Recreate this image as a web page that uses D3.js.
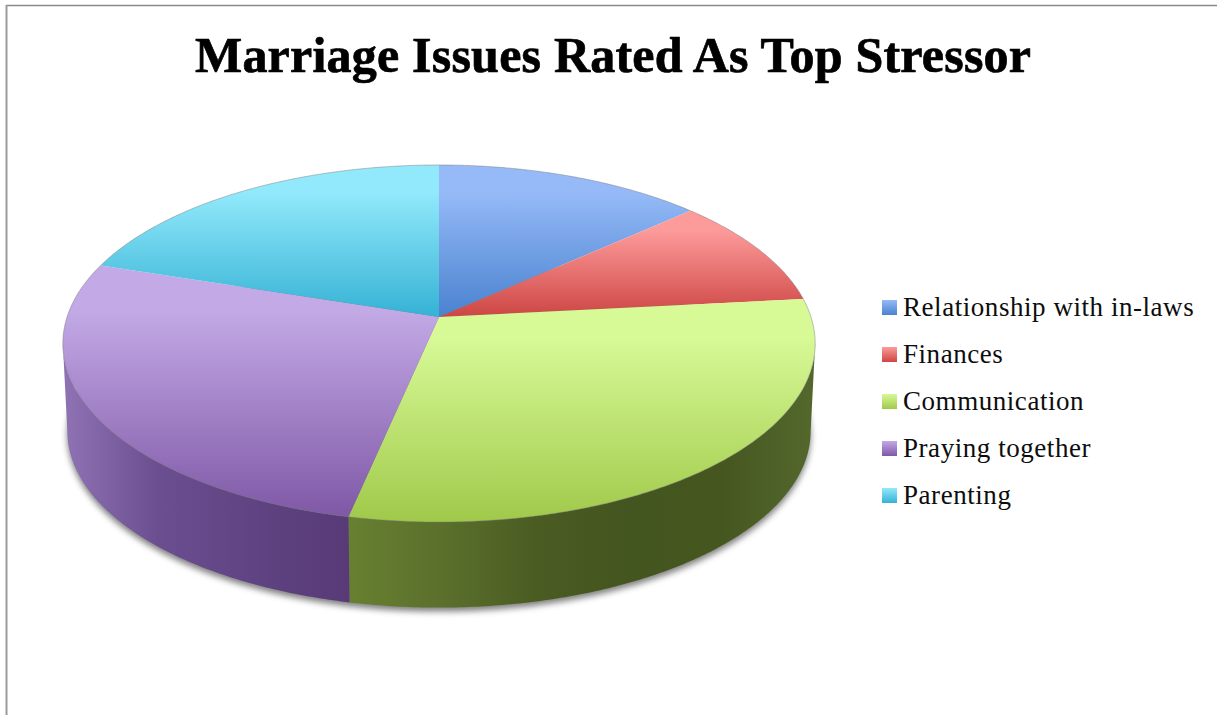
<!DOCTYPE html>
<html>
<head>
<meta charset="utf-8">
<script src="https://cdn.jsdelivr.net/npm/d3@7"></script>
<style>
  html, body { margin: 0; padding: 0; background: #fff; }
  svg { display: block; }
  text { font-family: "Liberation Serif", serif; fill: #0d0d0d; }
</style>
</head>
<body>
<svg id="chart" width="1217" height="715"></svg>
<script>
const titleText = "Marriage Issues Rated As Top Stressor";
const categories = ["Relationship with in-laws", "Finances", "Communication", "Praying together", "Parenting"];
const values = [4, 3, 9, 8, 6];
const faceLight = ["#95baf7", "#fd9b9b", "#d7f996", "#c3a9e6", "#92e9fb"];
const faceDark = ["#4a82cf", "#cd4643", "#a0c94a", "#7f58a6", "#35b2d5"];
const wallStops = {
  2: ["#678030", "#5b702c", "#4a5c22", "#44561f", "#45571f", "#54682d"],
  3: ["#8f73b4", "#6b4e90", "#5f4382", "#573a76"]
};

const W = 1217, H = 715;
const svg = d3.select("#chart");
const defs = svg.append("defs");

// Perspective view of the disc: far side is compressed, near side enlarged.
const view = { cx: 439, cy: 317, a: 372, b: 174.6, k: 0.1485, depth: 88, shrink: 0.988 };
function project(theta, level) {
  const u = Math.sin(theta), v = Math.cos(theta), w = 1 + view.k * v;
  const s = level ? view.shrink : 1;
  return [view.cx + s * view.a * u / w, view.cy + level * view.depth - s * view.b * v / w];
}
function arcPoints(a0, a1, level) {
  const n = Math.max(2, Math.ceil((a1 - a0) / 0.01));
  return d3.range(n + 1).map(i => project(a0 + (a1 - a0) * i / n, level));
}
const line = d3.line();
const slices = d3.pie().sort(null)(values);
// The wall is visible between the two tangent points of the outline
const tangent = Math.acos(-view.k);
const FRONT = [tangent, 2 * Math.PI - tangent];

// Page frame along the top and left edges
svg.append("line").attr("x1", 6).attr("x2", W).attr("y1", 5.5).attr("y2", 5.5)
  .attr("stroke", "#8a8a8a").attr("stroke-width", 1.5);
svg.append("line").attr("x1", 6.5).attr("x2", 6.5).attr("y1", 5).attr("y2", H)
  .attr("stroke", "#9a9a9a").attr("stroke-width", 2);

// Soft drop shadow below the solid
const blur = defs.append("filter").attr("id", "soft")
  .attr("x", "-5%").attr("y", "-5%").attr("width", "110%").attr("height", "110%");
blur.append("feGaussianBlur").attr("stdDeviation", 3);
svg.append("path")
  .attr("d", line(arcPoints(0, 2 * Math.PI, 1)) + "Z")
  .attr("transform", "translate(0,4)")
  .attr("fill", "#555").attr("opacity", 0.75).attr("filter", "url(#soft)");

// Side walls, shaded left to right
slices.forEach((d, i) => {
  const a0 = Math.max(d.startAngle, FRONT[0]), a1 = Math.min(d.endAngle, FRONT[1]);
  if (a0 >= a1 || !wallStops[i]) return;
  const upper = arcPoints(a0, a1, 0), lower = arcPoints(a0, a1, 1).reverse();
  const xs = upper.concat(lower).map(p => p[0]);
  const grad = defs.append("linearGradient").attr("id", "wall" + i)
    .attr("gradientUnits", "userSpaceOnUse")
    .attr("x1", d3.min(xs)).attr("x2", d3.max(xs)).attr("y1", 0).attr("y2", 0);
  wallStops[i].forEach((c, j) => grad.append("stop").attr("offset", j / (wallStops[i].length - 1)).attr("stop-color", c));
  svg.append("path").attr("d", line(upper.concat(lower)) + "Z").attr("fill", `url(#wall${i})`);
});

// Top faces, each with its own vertical gradient
slices.forEach((d, i) => {
  const grad = defs.append("linearGradient").attr("id", "face" + i)
    .attr("x1", 0).attr("x2", 0).attr("y1", 0).attr("y2", 1);
  grad.append("stop").attr("offset", 0).attr("stop-color", faceLight[i]);
  grad.append("stop").attr("offset", 0.18).attr("stop-color", faceLight[i]);
  grad.append("stop").attr("offset", 1).attr("stop-color", faceDark[i]);
  const pts = [[view.cx, view.cy]].concat(arcPoints(d.startAngle, d.endAngle, 0));
  svg.append("path").attr("d", line(pts) + "Z").attr("fill", `url(#face${i})`);
  svg.append("path").attr("d", line(arcPoints(d.startAngle, d.endAngle, 0)))
    .attr("fill", "none").attr("stroke", "#777").attr("stroke-opacity", 0.45).attr("stroke-width", 1);
});

// Title
svg.append("text").attr("x", 613).attr("y", 72).attr("text-anchor", "middle")
  .attr("font-size", 50).attr("font-weight", 700).attr("textLength", 836).attr("lengthAdjust", "spacing")
  .style("fill", "#000").style("stroke", "#000").style("stroke-width", 0.7)
  .text(titleText);

// Legend
const legendY = d3.scalePoint().domain(categories).range([300, 488]);
const legend = svg.append("g").selectAll("g").data(categories).join("g")
  .attr("transform", d => `translate(882,${legendY(d)})`);
legend.each(function (d, i) {
  const grad = defs.append("linearGradient").attr("id", "key" + i)
    .attr("x1", 0).attr("x2", 0).attr("y1", 0).attr("y2", 1);
  grad.append("stop").attr("offset", 0).attr("stop-color", faceLight[i]);
  grad.append("stop").attr("offset", 1).attr("stop-color", faceDark[i]);
});
legend.append("rect").attr("width", 15).attr("height", 15).attr("fill", (d, i) => `url(#key${i})`);
legend.append("text").attr("x", 21).attr("y", 16).attr("font-size", 27).attr("letter-spacing", 0.55).text(d => d);
</script>
</body>
</html>
